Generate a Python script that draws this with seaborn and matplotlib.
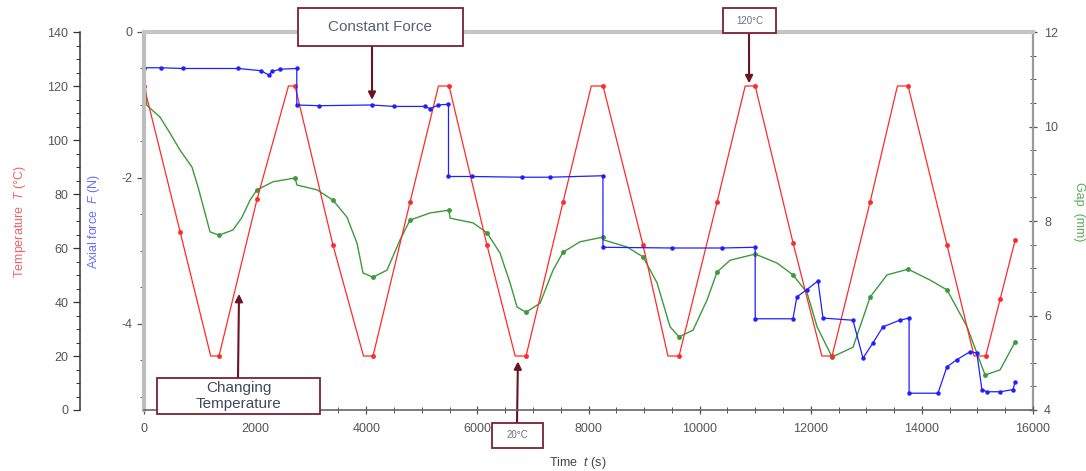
import matplotlib
matplotlib.use("Agg")
import numpy as np
import pandas as pd
import seaborn as sns
import matplotlib.pyplot as plt
from matplotlib.patches import Rectangle
from matplotlib.ticker import MultipleLocator

# ---------------- data ----------------
temp_t = [0, 650, 1200, 1350, 2034, 2600, 2718, 3402, 3950, 4122, 4788, 5300, 5490,
          6174, 6680, 6876, 7542, 8050, 8262, 8982, 9430, 9630, 10314, 10820, 11000,
          11680, 12200, 12384, 13068, 13560, 13752, 14454, 14940, 15150, 15408, 15680]
temp_v = [120, 66, 20, 20, 78, 120, 120, 61, 20, 20, 77, 120, 120,
          61, 20, 20, 77, 120, 120, 61, 20, 20, 77, 120, 120,
          62, 20, 20, 77, 120, 120, 61, 20, 20, 41, 63]

force_t = [0, 0, 300, 700, 1700, 2100, 2250, 2300, 2450, 2750, 2750, 3150, 4100, 4500,
           5050, 5150, 5300, 5480, 5480, 5900, 6800, 7300, 8260, 8260, 9500, 10400, 11000,
           11000, 11680, 11750, 11930, 12130, 12220, 12760, 12940, 13120, 13300, 13600,
           13770, 13770, 14290, 14450, 14630, 14870, 14990, 15080, 15170, 15410, 15640, 15680]
force_v = [0, -0.49, -0.49, -0.50, -0.50, -0.53, -0.59, -0.54, -0.51, -0.50, -1.00, -1.01,
           -1.00, -1.02, -1.02, -1.05, -1.00, -0.99, -1.98, -1.98, -1.99, -1.99, -1.97, -2.95,
           -2.96, -2.96, -2.95, -3.93, -3.93, -3.63, -3.53, -3.41, -3.92, -3.95, -4.47, -4.26,
           -4.04, -3.95, -3.92, -4.95, -4.95, -4.59, -4.49, -4.38, -4.40, -4.90, -4.93, -4.93,
           -4.90, -4.79]

gap_t = [0, 50, 288, 468, 648, 864, 972, 1098, 1188, 1350, 1602, 1764, 1908, 2034, 2322,
         2718, 2754, 3114, 3402, 3654, 3834, 3942, 4122, 4374, 4608, 4788, 5148, 5490, 5508,
         5922, 6174, 6408, 6588, 6714, 6876, 7128, 7362, 7542, 7848, 8262, 8270, 8694, 8982,
         9234, 9468, 9630, 9882, 10134, 10314, 10548, 11000, 11394, 11680, 11934, 12114,
         12384, 12762, 13068, 13374, 13752, 14148, 14454, 14814, 15138, 15408, 15678]
gap_v = [11.24, 10.45, 10.20, 9.86, 9.50, 9.14, 8.72, 8.17, 7.77, 7.70, 7.81, 8.08, 8.44,
         8.66, 8.83, 8.91, 8.76, 8.66, 8.44, 8.08, 7.53, 6.90, 6.81, 6.96, 7.60, 8.02, 8.17,
         8.23, 8.06, 7.96, 7.75, 7.32, 6.69, 6.18, 6.07, 6.26, 6.96, 7.34, 7.56, 7.66, 7.60,
         7.45, 7.24, 6.69, 5.76, 5.55, 5.69, 6.33, 6.92, 7.17, 7.30, 7.11, 6.86, 6.48, 5.76,
         5.12, 5.33, 6.39, 6.86, 6.98, 6.75, 6.54, 5.76, 4.74, 4.85, 5.44]

x_ticks = [0, 2000, 4000, 6000, 8000, 10000, 12000, 14000, 16000]
temp_ticks = [0, 20, 40, 60, 80, 100, 120, 140]
force_ticks = [0, -2, -4]
gap_ticks = [4, 6, 8, 10, 12]

temp_df = pd.DataFrame({"t": temp_t, "T": temp_v})
force_df = pd.DataFrame({"t": force_t, "F": force_v})
gap_df = pd.DataFrame({"t": gap_t, "G": gap_v})

# ---------------- style ----------------
sns.set_theme(style="ticks")
plt.rcParams["font.family"] = ["Liberation Sans", "DejaVu Sans"]
plt.rcParams["mathtext.fontset"] = "custom"
plt.rcParams["mathtext.rm"] = "Liberation Sans"
plt.rcParams["mathtext.it"] = "Liberation Sans:italic"
plt.rcParams["axes.unicode_minus"] = False

RED = "#ff2a2a"
BLUE = "#1f1fff"
GREEN = "#3c9a3c"
BOX = "#7a2232"
ARROW = "#6a1424"
TICKC = "#555555"

W, H = 1086, 471
fig = plt.figure(figsize=(W / 100, H / 100), dpi=100)


def fx(px):
    return px / W


def fy(py):
    return 1 - py / H


ax = fig.add_axes([fx(144), fy(410), (1033 - 144) / W, (410 - 32) / H])
ax_g = ax.twinx()
ax_t = ax.twinx()

# ---------------- series ----------------
red_marks = [i for i, v in enumerate(temp_t)
             if v not in (1200, 2600, 3950, 5300, 6680, 8050, 9430, 10820, 12200, 13560, 14940)]
sns.lineplot(data=temp_df, x="t", y="T", ax=ax_t, sort=False, estimator=None,
             color=RED, lw=0.9, marker="o", markersize=3.5, markeredgewidth=0,
             markevery=red_marks)

green_marks = [0, 9, 13, 15, 18, 22, 25, 27, 30, 34, 37, 39, 42, 45, 48, 50, 52, 55, 57,
               59, 61, 63, 65]
sns.lineplot(data=gap_df, x="t", y="G", ax=ax_g, sort=False, estimator=None,
             color=GREEN, lw=1.0, marker="o", markersize=3.5, markeredgewidth=0,
             markevery=green_marks)

sns.lineplot(data=force_df, x="t", y="F", ax=ax, sort=False, estimator=None,
             color=BLUE, lw=0.9, marker="o", markersize=3.2, markeredgewidth=0)

# ---------------- axes ----------------
ax.set_xlim(0, 16000)
ax.set_ylim(-5.18, 0)
ax_t.set_ylim(0, 140)
ax_g.set_ylim(4, 12)

ax.set_xticks(x_ticks)
ax.xaxis.set_minor_locator(MultipleLocator(500))
ax.set_yticks(force_ticks)
ax.yaxis.set_minor_locator(MultipleLocator(0.5))
ax_t.set_yticks(temp_ticks)
ax_t.yaxis.set_minor_locator(MultipleLocator(5))
ax_g.set_yticks(gap_ticks)
ax_g.yaxis.set_minor_locator(MultipleLocator(0.5))

ax.tick_params(axis="x", which="major", direction="inout", length=6, width=0.9,
               color="#555555", labelsize=9, labelcolor=TICKC, pad=6, bottom=True, top=False)
ax.tick_params(axis="x", which="minor", direction="inout", length=4, width=0.7,
               color="#555555", bottom=True, top=False)
ax.tick_params(axis="y", which="major", direction="out", length=5, width=0.9,
               color="#555555", labelsize=9, labelcolor=TICKC, left=True, right=False)
ax.tick_params(axis="y", which="minor", direction="out", length=3, width=0.7,
               color="#555555", left=True, right=False)

ax_t.yaxis.set_ticks_position("left")
ax_t.yaxis.set_label_position("left")
ax_t.spines["left"].set_position(("outward", 46))
ax_t.tick_params(axis="y", which="major", direction="out", length=5, width=0.9,
                 color="#333333", labelsize=9, labelcolor=TICKC)
ax_t.tick_params(axis="y", which="minor", direction="out", length=3, width=0.7,
                 color="#333333")

ax_g.tick_params(axis="y", which="major", direction="inout", length=6, width=0.9,
                 color="#555555", labelsize=9, labelcolor=TICKC, pad=5)
ax_g.tick_params(axis="y", which="minor", direction="inout", length=4, width=0.7,
                 color="#555555")

for a in (ax, ax_t, ax_g):
    a.grid(False)
    for s in a.spines.values():
        s.set_visible(False)

ax.spines["top"].set_visible(True)
ax.spines["top"].set_color("#c4c4c4")
ax.spines["top"].set_linewidth(3)
ax.spines["left"].set_visible(True)
ax.spines["left"].set_color("#bdbdbd")
ax.spines["left"].set_linewidth(3)
ax.spines["bottom"].set_visible(True)
ax.spines["bottom"].set_color("#666666")
ax.spines["bottom"].set_linewidth(1.2)
ax_g.spines["right"].set_visible(True)
ax_g.spines["right"].set_color("#9a9a9a")
ax_g.spines["right"].set_linewidth(1.6)
ax_t.spines["left"].set_visible(True)
ax_t.spines["left"].set_color("#333333")
ax_t.spines["left"].set_linewidth(1.1)

ax.set_zorder(ax_t.get_zorder() + 2)
ax.patch.set_visible(False)

ax.set_xlabel("Time  $t$ (s)", fontsize=9, color="#444444")
ax.xaxis.set_label_coords((578 - 144) / 889, (410 - 455) / 378)
ax.set_ylabel("Axial force  $F$ (N)", fontsize=9, color="#6b6bff", va="center")
ax.yaxis.set_label_coords((94 - 144) / 889, 0.5)
ax_t.set_ylabel("Temperature  $T$ (°C)", fontsize=9, color="#f46060", va="center")
ax_t.yaxis.set_label_coords((20 - 144) / 889, 0.5)
ax_g.set_ylabel("Gap  (mm)", fontsize=9, color="#5aaa5a", va="center", rotation=270)
ax_g.yaxis.set_label_coords((1079 - 144) / 889, (410 - 212) / 378)

# ---------------- annotations ----------------
def box(x0, y0, x1, y1, text, size, color):
    fig.add_artist(Rectangle((fx(x0), fy(y1)), (x1 - x0) / W, (y1 - y0) / H,
                             transform=fig.transFigure, facecolor="white",
                             edgecolor=BOX, lw=1.3, zorder=10))
    fig.text(fx((x0 + x1) / 2), fy((y0 + y1) / 2), text, ha="center", va="center",
             fontsize=size, color=color, zorder=11, linespacing=1.15)


def arrow(axis, xy, px, py):
    axis.annotate("", xy=xy, xycoords="data", xytext=(fx(px), fy(py)),
                  textcoords="figure fraction", annotation_clip=False, zorder=12,
                  arrowprops=dict(arrowstyle="-|>", color=ARROW, lw=1.5,
                                  mutation_scale=11, shrinkA=0, shrinkB=0))


arrow(ax, (4104, -0.93), 372, 46)
arrow(ax_t, (10890, 121), 749, 33)
arrow(ax_t, (1710, 43), 238, 378)
arrow(ax_t, (6730, 18), 517, 423)

box(298, 8, 463, 46, "Constant Force", 11, "#586070")
box(723, 8, 776, 33, "120°C", 7, "#6a7080")
box(157, 378, 320, 414, "Changing\nTemperature", 11, "#404a5e")
box(492, 423, 543, 448, "20°C", 7, "#6a7080")

fig.savefig("out.png", dpi=100, facecolor="white")
